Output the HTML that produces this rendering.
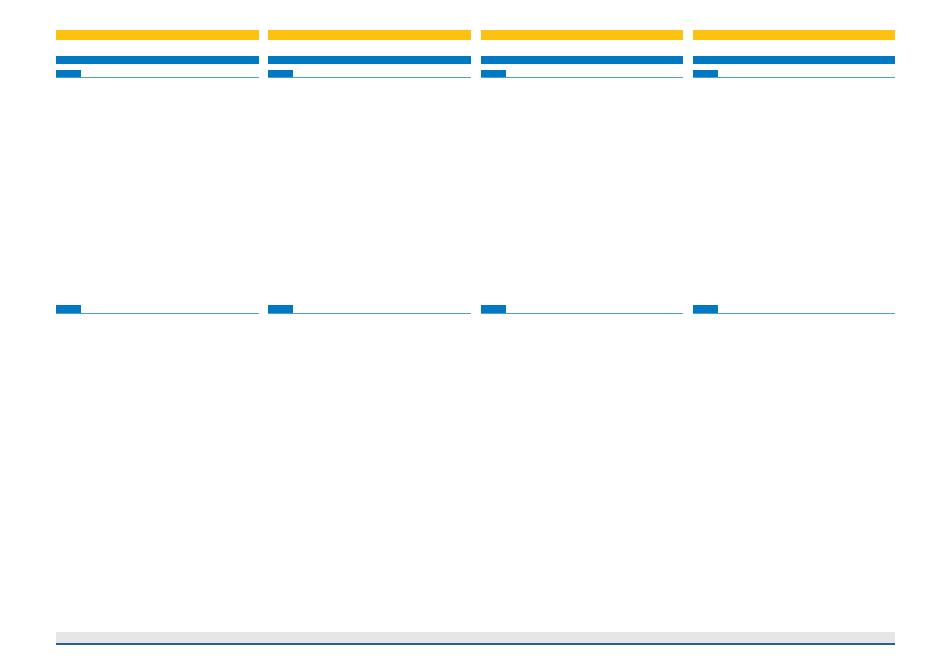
<!DOCTYPE html>
<html><head><meta charset="utf-8"><style>
html,body{margin:0;padding:0;background:#fff;width:950px;height:667px;overflow:hidden;position:relative}
div{position:absolute}
.y{background:#fdc10f;height:10px;top:30px}
.b{background:#0079c2;height:8px;top:56px}
.t{background:#0079c2;height:8px;width:25px}
.l{background:#4a9fd6;height:1px}
</style></head><body>
<div class="y" style="left:56px;width:202.5px"></div>
<div class="y" style="left:268.3px;width:202.5px"></div>
<div class="y" style="left:480.6px;width:202.5px"></div>
<div class="y" style="left:692.9px;width:202.5px"></div>
<div class="b" style="left:56px;width:202.5px"></div>
<div class="b" style="left:268.3px;width:202.5px"></div>
<div class="b" style="left:480.6px;width:202.5px"></div>
<div class="b" style="left:692.9px;width:202.5px"></div>

<div class="t" style="left:56px;top:69.5px"></div>
<div class="t" style="left:268.3px;top:69.5px"></div>
<div class="t" style="left:480.6px;top:69.5px"></div>
<div class="t" style="left:692.9px;top:69.5px"></div>
<div class="l" style="left:56px;width:202.5px;top:77px"></div>
<div class="l" style="left:268.3px;width:202.5px;top:77px"></div>
<div class="l" style="left:480.6px;width:202.5px;top:77px"></div>
<div class="l" style="left:692.9px;width:202.5px;top:77px"></div>

<div class="t" style="left:56px;top:305px"></div>
<div class="t" style="left:268.3px;top:305px"></div>
<div class="t" style="left:480.6px;top:305px"></div>
<div class="t" style="left:692.9px;top:305px"></div>
<div class="l" style="left:56px;width:202.5px;top:312.5px"></div>
<div class="l" style="left:268.3px;width:202.5px;top:312.5px"></div>
<div class="l" style="left:480.6px;width:202.5px;top:312.5px"></div>
<div class="l" style="left:692.9px;width:202.5px;top:312.5px"></div>

<div style="left:56px;width:839px;top:632px;height:11px;background:#e6e6e6"></div>
<div style="left:56px;width:839px;top:643px;height:1.5px;background:#2a5d9c"></div>
</body></html>
